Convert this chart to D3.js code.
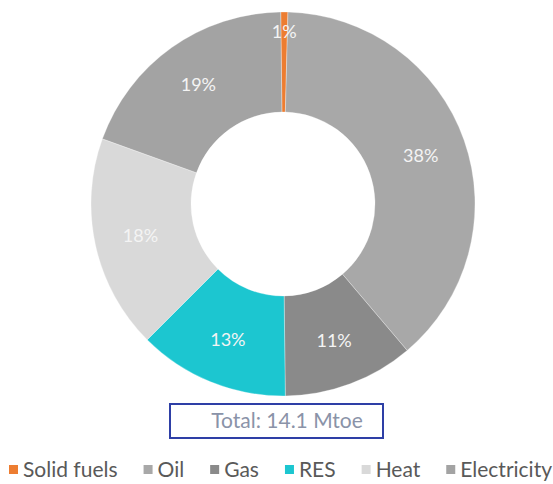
<!DOCTYPE html>
<html><head><meta charset="utf-8">
<script src="https://cdn.jsdelivr.net/npm/d3@7"></script>
<style>html,body{margin:0;padding:0;background:#fff;}</style>
</head><body>
<svg id="c" width="553" height="484"></svg>
<script>
const categories = ["Solid fuels", "Oil", "Gas", "RES", "Heat", "Electricity"];
const shares = [0.6, 38.4, 11, 12.7, 18, 19.3];
const shareLabels = ["1%", "38%", "11%", "13%", "18%", "19%"];
const colors = ["#ed7d31", "#a8a8a8", "#8a8a8a", "#1cc6d0", "#d9d9d9", "#a3a3a3"];
const totalLabel = "Total: 14.1 Mtoe";

const svg = d3.select("#c");
const cx = 283, cy = 204, R = 192, r0 = 92;
const font = "Lato, 'Open Sans', sans-serif";

const pie = d3.pie().sort(null).value(d => d.v).startAngle(-0.012).endAngle(2*Math.PI - 0.012);
const data = pie(categories.map((c,i)=>({c, v: shares[i], lab: shareLabels[i], col: colors[i]})));
const arc = d3.arc().innerRadius(r0).outerRadius(R);
const g = svg.append("g").attr("transform", `translate(${cx},${cy})`);
g.selectAll("path").data(data).join("path")
  .attr("d", arc).attr("fill", d => d.data.col)
  .attr("stroke", "#ffffff").attr("stroke-width", 0.6).attr("stroke-opacity", 0.5);

g.selectAll("text").data(data).join("text")
  .attr("transform", d => {
    const span = d.endAngle - d.startAngle;
    const lr = span < 0.1 ? 172 : 146;
    const a = (d.startAngle + d.endAngle)/2;
    return `translate(${lr*Math.sin(a)},${-lr*Math.cos(a)})`;
  })
  .attr("text-anchor", "middle").attr("dy", "0.35em")
  .attr("fill", "#f4f4f4").attr("font-family", font).attr("font-size", 18)
  .text(d => d.data.lab);

// total box
svg.append("rect").attr("x", 170).attr("y", 404).attr("width", 213).attr("height", 34)
  .attr("fill", "#fff").attr("stroke", "#2e3fa6").attr("stroke-width", 2);
svg.append("text").attr("x", 287).attr("y", 421).attr("dy", "0.35em").attr("text-anchor", "middle")
  .attr("fill", "#8a93a8").attr("font-family", font).attr("font-size", 21).text(totalLabel);

// legend
const leg = svg.append("g").attr("transform", "translate(0,470)");
const lfs = 21;
const items = leg.selectAll("g").data(categories).join("g");
const texts = [];
items.each(function(c, i) {
  const el = d3.select(this);
  el.append("rect").attr("width", 9).attr("height", 9).attr("y", -5).attr("fill", colors[i]);
  texts.push(el.append("text").attr("y", 0).attr("dy", "0.35em")
    .attr("fill", "#595959").attr("font-family", font).attr("font-size", lfs).text(c));
});
const widths = texts.map(t => t.node().getComputedTextLength());
const x0 = 9, x1 = 552, sw = 14;
const gap = (x1 - x0 - d3.sum(widths) - sw*categories.length) / (categories.length - 1);
let x = x0;
items.each(function(c, i) {
  const el = d3.select(this);
  el.select("rect").attr("x", x);
  texts[i].attr("x", x + sw);
  x += sw + widths[i] + gap;
});
</script>
</body></html>
